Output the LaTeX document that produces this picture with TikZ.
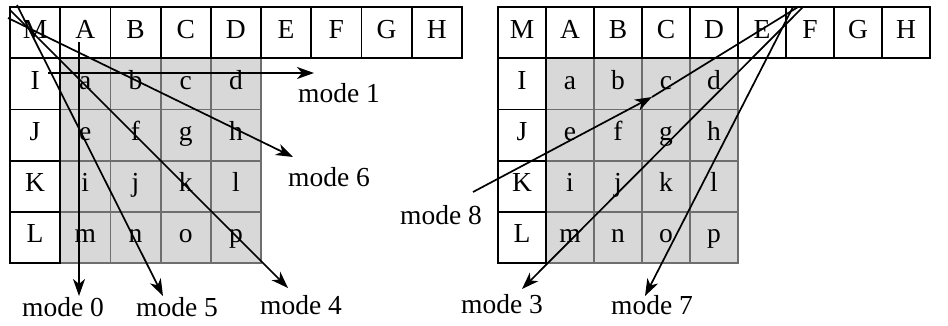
\documentclass[tikz,border=0pt]{standalone}
\usepackage{fontspec}
\setmainfont{Liberation Serif}
\usetikzlibrary{arrows.meta}
\definecolor{cellgray}{RGB}{216,216,216}
\definecolor{linegray}{RGB}{110,110,110}
\begin{document}
\begin{tikzpicture}[x=1pt,y=-1pt,
  txt/.style={font=\fontsize{27.5}{31}\selectfont},
  cellbase/.style={txt, line width=1.8pt, minimum height=51.2pt, inner sep=0pt, text height=17pt, text depth=6pt},
  hdr/.style={cellbase, draw=black, fill=white},
  incell/.style={cellbase, draw=linegray, fill=cellgray},
  arr/.style={-{Stealth[length=17pt,width=12pt,inset=5pt]}, line width=1.7pt},
  seg/.style={line width=1.7pt},
  lbl/.style={txt, inner sep=0pt}]
\useasboundingbox (0,0) rectangle (948,325);
% ---------- left grid ----------
\foreach \t [count=\k from 0] in {a,b,c,d,e,f,g,h,i,j,k,l,m,n,o,p}{
  \pgfmathtruncatemacro{\c}{mod(\k,4)+1}
  \pgfmathtruncatemacro{\r}{div(\k,4)+1}
  \node[incell, minimum width=50.2pt] (L\t) at ({10+50.2*\c+25.1},{7+51.2*\r+25.6}) {\t};
}
\foreach \t [count=\i from 0] in {M,A,B,C,D,E,F,G,H}
  \node[hdr, minimum width=50.2pt] (L\t) at ({10+50.2*\i+25.1},32.6) {\t};
\foreach \t [count=\i from 1] in {I,J,K,L}
  \node[hdr, minimum width=50.2pt] (L\t) at (35.1,{7+51.2*\i+25.6}) {\t};
% ---------- right grid ----------
\foreach \t [count=\k from 0] in {a,b,c,d,e,f,g,h,i,j,k,l,m,n,o,p}{
  \pgfmathtruncatemacro{\c}{mod(\k,4)+1}
  \pgfmathtruncatemacro{\r}{div(\k,4)+1}
  \node[incell, minimum width=48pt] (R\t) at ({498+48*\c+24},{7+51.2*\r+25.6}) {\t};
}
\foreach \t [count=\i from 0] in {M,A,B,C,D,E,F,G,H}
  \node[hdr, minimum width=48pt] (R\t) at ({498+48*\i+24},32.6) {\t};
\foreach \t [count=\i from 1] in {I,J,K,L}
  \node[hdr, minimum width=48pt] (R\t) at (522,{7+51.2*\i+25.6}) {\t};
% ---------- labels ----------
\node[lbl] (t0) at (63,307) {mode 0};
\node[lbl] (t5) at (177,307) {mode 5};
\node[lbl] (t4) at (301,305) {mode 4};
\node[lbl] (t1) at (339,93) {mode 1};
\node[lbl] (t6) at (329,177) {mode 6};
\node[lbl] (t8) at (441,215) {mode 8};
\node[lbl] (t3) at (502,304) {mode 3};
\node[lbl] (t7) at (652,305) {mode 7};
% ---------- left arrows ----------
\coordinate (s0) at (79,42);   \coordinate (e0) at (79,296);
\coordinate (s1) at (48,73);   \coordinate (e1) at (314,73);
\coordinate (s5) at (17,5);    \coordinate (e5) at (163,296);
\coordinate (s4) at (10,10);   \coordinate (e4) at (288,288);
\coordinate (s6) at (8,18);    \coordinate (e6) at (293,157);
\draw[arr] (s0) -- (e0);
\draw[arr] (s1) -- (e1);
\draw[arr] (s5) -- (e5);
\draw[arr] (s4) -- (e4);
\draw[arr] (s6) -- (e6);
% ---------- right arrows ----------
\coordinate (s3) at (803,7);   \coordinate (e3) at (522,289);
\coordinate (s7) at (793,7);   \coordinate (e7) at (645,296);
\coordinate (s8) at (473,192); \coordinate (m8) at (652,97); \coordinate (f8) at (798,7);
\draw[arr] (s3) -- (e3);
\draw[arr] (s7) -- (e7);
\draw[arr] (s8) -- (m8);
\draw[seg] (m8) -- (f8);
\end{tikzpicture}
\end{document}
